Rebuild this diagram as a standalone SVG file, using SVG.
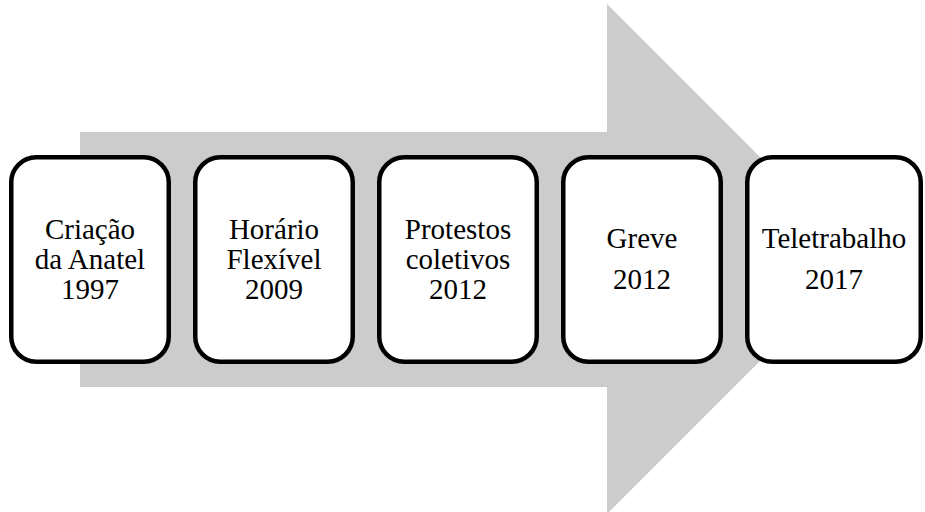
<svg xmlns="http://www.w3.org/2000/svg" width="925" height="512" viewBox="0 0 925 512">
<style>
.box{fill:#ffffff;stroke:#000000;stroke-width:4.5}
text{font-family:'Liberation Serif','Times New Roman',serif;font-size:29px;fill:#000000;text-anchor:middle}
</style>
<rect width="925" height="512" fill="#ffffff"/>
<g id="arrow">
<polygon points="80,132 607,132 607,4 862,259 607,514 607,387 80,387" fill="#cccccc"/>
</g>
<g id="connectors"></g>
<g id="node1">
<rect class="box" x="11.25" y="157.25" width="157.5" height="204.5" rx="25"/>
<text x="90" y="239">Criação</text>
<text x="90" y="269">da Anatel</text>
<text x="90" y="299">1997</text>
</g>
<g id="node2">
<rect class="box" x="195.25" y="157.25" width="157.5" height="204.5" rx="25"/>
<text x="274" y="239">Horário</text>
<text x="274" y="269">Flexível</text>
<text x="274" y="299">2009</text>
</g>
<g id="node3">
<rect class="box" x="379.25" y="157.25" width="157.5" height="204.5" rx="25"/>
<text x="458" y="239">Protestos</text>
<text x="458" y="269">coletivos</text>
<text x="458" y="299">2012</text>
</g>
<g id="node4">
<rect class="box" x="563.25" y="157.25" width="157.5" height="204.5" rx="25"/>
<text x="642" y="248">Greve</text>
<text x="642" y="289">2012</text>
</g>
<g id="node5">
<rect class="box" x="747.25" y="157.25" width="173.5" height="204.5" rx="25"/>
<text x="834" y="248">Teletrabalho</text>
<text x="834" y="289">2017</text>
</g>
</svg>
